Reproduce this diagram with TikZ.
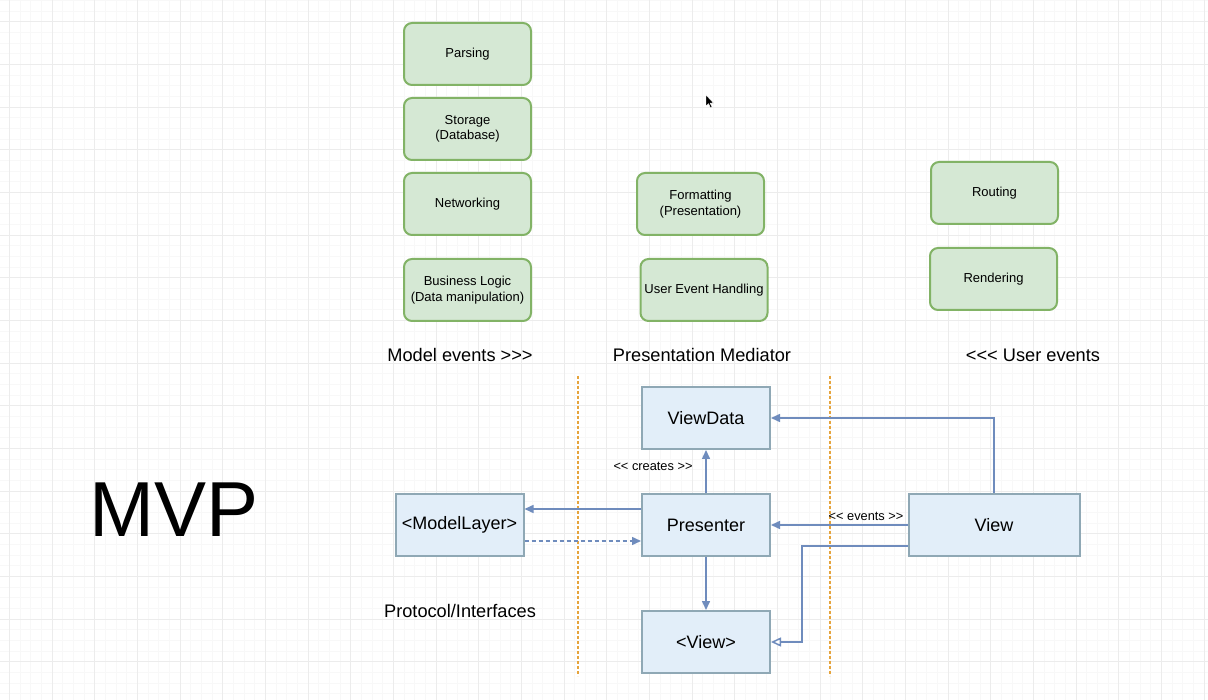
\documentclass[tikz,border=0pt]{standalone}
\usepackage{fontspec}
\setmainfont{Liberation Sans}
\usetikzlibrary{arrows.meta}
\definecolor{gfill}{HTML}{D5E8D4}
\definecolor{gdraw}{HTML}{82B366}
\definecolor{bfill}{HTML}{E2EEF9}
\definecolor{bdraw}{HTML}{8FA8B5}
\definecolor{arr}{HTML}{6F8CBD}
\definecolor{orng}{HTML}{E6A43C}
\definecolor{gminor}{HTML}{F8F8F8}
\definecolor{gmajor}{HTML}{ECECEC}
\begin{document}
\begin{tikzpicture}[x=1pt,y=-1pt,
  greenbox/.style={draw=gdraw, fill=gfill, line width=2pt, rounded corners=8pt,
    minimum width=127pt, minimum height=62pt, align=center, inner sep=2pt,
    font=\fontsize{13}{15.5}\selectfont},
  bluebox/.style={draw=bdraw, fill=bfill, line width=2pt, minimum height=62pt,
    minimum width=128pt, align=center, font=\fontsize{18}{21}\selectfont},
  heading/.style={font=\fontsize{18.2}{21}\selectfont, inner sep=0pt},
  conn/.style={draw=arr, line width=1.5pt, -{Triangle[length=9pt,width=8pt]}},
  connopen/.style={draw=arr, line width=1.5pt, -{Triangle[open,length=10pt,width=9pt,fill=white]}},
  sep/.style={draw=orng, line width=1.3pt, dash pattern=on 3pt off 2pt},
  small/.style={font=\fontsize{12.8}{14}\selectfont, inner sep=1pt}
]
\useasboundingbox (0,0) rectangle (1208,700);
\fill[white] (0,0) rectangle (1208,700);
% grid
\foreach \k in {0,...,114}{
  \pgfmathsetmacro\xx{-1.33+\k*10.667}
  \draw[gminor, line width=0.7pt] (\xx,0) -- (\xx,700);
}
\foreach \k in {0,...,66}{
  \pgfmathsetmacro\yy{0.37+\k*10.667}
  \draw[gminor, line width=0.7pt] (0,\yy) -- (1208,\yy);
}
\foreach \k in {0,...,28}{
  \pgfmathsetmacro\xx{9.33+\k*42.667}
  \draw[gmajor, line width=0.9pt] (\xx,0) -- (\xx,700);
}
\foreach \k in {0,...,16}{
  \pgfmathsetmacro\yy{21.7+\k*42.667}
  \draw[gmajor, line width=0.9pt] (0,\yy) -- (1208,\yy);
}

% green boxes
\node[greenbox] (parsing) at (467.5,54) {Parsing};
\node[greenbox] (storage) at (467.5,129) {Storage\\(Database)};
\node[greenbox] (network) at (467.5,204) {Networking};
\node[greenbox] (business) at (467.5,290) {Business Logic\\(Data manipulation)};
\node[greenbox] (format) at (700.5,204) {Formatting\\(Presentation)};
\node[greenbox] (userev) at (704,290) {User Event Handling};
\node[greenbox] (routing) at (994.5,193) {Routing};
\node[greenbox] (render) at (993.5,279) {Rendering};

% headings
\node[heading] (modelev) at (460,355) {Model events >\kern0pt>\kern0pt>};
\node[heading] (mediator) at (702,355) {Presentation Mediator};
\node[heading] (userevh) at (1033,355) {<\kern0pt<\kern0pt< User events};

% separators
\coordinate (s1t) at (578,376); \coordinate (s1b) at (578,676);
\coordinate (s2t) at (830,376); \coordinate (s2b) at (830,676);
\draw[sep] (s1t) -- (s1b);
\draw[sep] (s2t) -- (s2b);

% blue boxes
\node[bluebox] (vd) at (706,418) {ViewData};
\node[bluebox] (pres) at (706,525) {Presenter};
\node[bluebox] (ml) at (459.5,525) {<ModelLayer>};
\node[bluebox, minimum width=171pt] (view) at (994,525) {View};
\node[bluebox] (vproto) at (706,642) {<View>};

% big label
\node[font=\fontsize{78}{80}\selectfont, inner sep=0pt] (mvp) at (174,510) {MVP};
\node[heading] (proto) at (460,611) {Protocol/Interfaces};

% connectors
\draw[conn] (pres.north) -- (vd.south);
\node[small] (creates) at (653,466) {<\kern0pt< creates >\kern0pt>};
\draw[conn] ([yshift=16pt]pres.west) -- ([yshift=16pt]ml.east);
\draw[conn, dash pattern=on 4pt off 3pt] ([yshift=-16pt]ml.east) -- ([yshift=-16pt]pres.west);
\draw[conn] (view.north) |- (vd.east);
\draw[conn] (view.west) -- (pres.east);
\node[small] (events) at (866,516) {<\kern0pt< events >\kern0pt>};
\coordinate (bend) at (802,546);
\draw[connopen] ([yshift=-21pt]view.west) -- (bend) |- (vproto.east);
\draw[conn] (pres.south) -- (vproto.north);

% mouse cursor
\filldraw[black, draw=white, line width=0.4pt] (706,95) -- (706,106) -- (708.5,103.6) -- (710.5,107.8) -- (712,107.1) -- (710.1,103.1) -- (713.5,103.1) -- cycle;
\end{tikzpicture}
\end{document}
